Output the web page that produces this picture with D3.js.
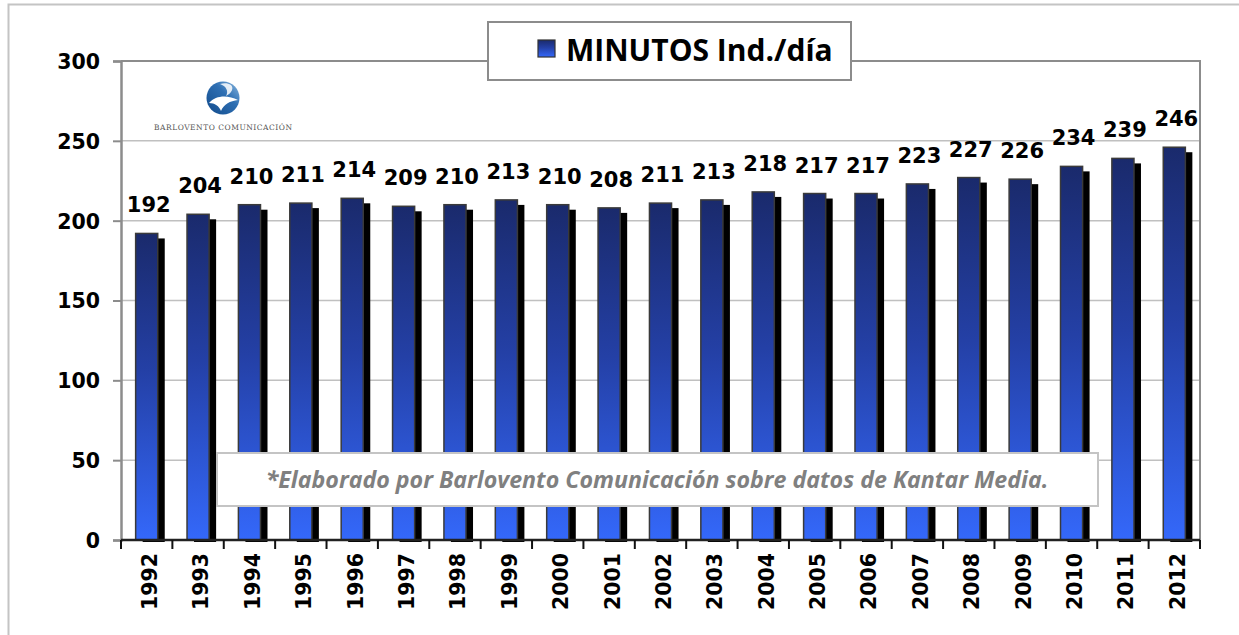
<!DOCTYPE html>
<html>
<head>
<meta charset="utf-8">
<script src="https://cdn.jsdelivr.net/npm/d3@7"></script>
<style>
  html, body { margin: 0; padding: 0; background: #fff; }
  svg { display: block; }
</style>
</head>
<body>
<svg id="chart" width="1239" height="635"></svg>
<script>
// datos
const years = ["1992", "1993", "1994", "1995", "1996", "1997", "1998", "1999", "2000", "2001", "2002",
               "2003", "2004", "2005", "2006", "2007", "2008", "2009", "2010", "2011", "2012"];
const minutos = [192, 204, 210, 211, 214, 209, 210, 213, 210, 208, 211,
                 213, 218, 217, 217, 223, 227, 226, 234, 239, 246];
const yTicks = [0, 50, 100, 150, 200, 250, 300];
const legendLabel = "MINUTOS Ind./día";
const footnote = "*Elaborado por Barlovento Comunicación sobre datos de Kantar Media.";
const logoText = "BARLOVENTO COMUNICACIÓN";

(() => {
    const numFont = "'DejaVu Sans', Verdana, sans-serif";
    const txtFont = "'Open Sans', Lato, sans-serif";

    let svg = d3.select('#chart');

    let pLeft = 121, pRight = 1200, pTop = 61, pBottom = 540;

    let x = d3.scaleBand().domain(years).range([pLeft, pRight]).paddingInner(0.57).paddingOuter(0.285);
    let y = d3.scaleLinear().domain([0, 300]).range([pBottom, pTop]);

    let defs = svg.append('defs');
    let grad = defs.append('linearGradient').attr('id', 'barGrad')
        .attr('x1', 0).attr('y1', 0).attr('x2', 0).attr('y2', 1);
    grad.append('stop').attr('offset', '0%').attr('stop-color', '#1a2a6c');
    grad.append('stop').attr('offset', '45%').attr('stop-color', '#2440a6');
    grad.append('stop').attr('offset', '100%').attr('stop-color', '#3468fa');

    let logoGrad = defs.append('linearGradient').attr('id', 'logoGrad')
        .attr('x1', 0).attr('y1', 1).attr('x2', 1).attr('y2', 0);
    logoGrad.append('stop').attr('offset', '0%').attr('stop-color', '#114a8a');
    logoGrad.append('stop').attr('offset', '60%').attr('stop-color', '#2e6fb3');
    logoGrad.append('stop').attr('offset', '100%').attr('stop-color', '#8ab8e0');

    // marco exterior
    svg.append('rect')
        .attr('x', 8.5).attr('y', 4.5).attr('width', 1260).attr('height', 660)
        .attr('fill', 'none').attr('stroke', '#c4c4c4').attr('stroke-width', 2);

    // lineas de rejilla
    svg.append('g')
        .selectAll('line')
        .data(yTicks.filter(d => d > 0 && d < 300))
        .join('line')
        .attr('x1', pLeft).attr('x2', pRight)
        .attr('y1', d => y(d)).attr('y2', d => y(d))
        .attr('stroke', '#c0c0c0').attr('stroke-width', 1.5);

    // borde del area de trazado
    svg.append('path')
        .attr('d', `M${pLeft},${y(300)}H${pRight}V${pBottom}`)
        .attr('fill', 'none').attr('stroke', '#8c8c8c').attr('stroke-width', 2);

    // sombras
    svg.append('g')
        .selectAll('rect')
        .data(minutos)
        .join('rect')
        .attr('x', (d, i) => x(years[i]) + 7)
        .attr('y', d => y(d) + 5)
        .attr('width', x.bandwidth())
        .attr('height', d => pBottom + 2 - y(d) - 5)
        .attr('fill', '#000');

    // barras
    svg.append('g')
        .selectAll('rect')
        .data(minutos)
        .join('rect')
        .attr('x', (d, i) => x(years[i]))
        .attr('y', d => y(d))
        .attr('width', x.bandwidth())
        .attr('height', d => pBottom - y(d))
        .attr('fill', 'url(#barGrad)')
        .attr('stroke', '#3a3a3a').attr('stroke-width', 1.5);

    // eje Y
    let yAxis = svg.append('g')
        .attr('transform', `translate(${pLeft},0)`)
        .call(d3.axisLeft(y).tickValues(yTicks).tickSize(8).tickPadding(13));
    yAxis.select('.domain').attr('stroke', '#8c8c8c').attr('stroke-width', 2.5);
    yAxis.selectAll('.tick line').attr('stroke', '#8c8c8c').attr('stroke-width', 2);
    yAxis.selectAll('.tick text')
        .attr('font-family', numFont).attr('font-weight', 'bold')
        .attr('font-size', 20.5).attr('fill', '#000').attr('dy', '0.36em');

    // eje X
    let xAxis = svg.append('g').attr('transform', `translate(0,${pBottom})`);
    xAxis.append('line')
        .attr('x1', pLeft).attr('x2', pRight)
        .attr('stroke', '#222').attr('stroke-width', 2.5);
    let step = x.step();
    xAxis.selectAll('.tk')
        .data(d3.range(years.length + 1))
        .join('line')
        .attr('class', 'tk')
        .attr('x1', i => pLeft + i * step).attr('x2', i => pLeft + i * step)
        .attr('y1', 0).attr('y2', 9)
        .attr('stroke', '#111').attr('stroke-width', 2);
    xAxis.selectAll('.yl')
        .data(years)
        .join('text')
        .attr('class', 'yl')
        .attr('transform', d => `translate(${x(d) + x.bandwidth() / 2 + 3},13) rotate(-90)`)
        .attr('text-anchor', 'end')
        .attr('dy', '0.36em')
        .attr('font-family', numFont).attr('font-weight', 'bold')
        .attr('font-size', 20.5).attr('fill', '#000')
        .text(d => d);

    // etiquetas de valor
    svg.append('g')
        .selectAll('text')
        .data(minutos)
        .join('text')
        .attr('x', (d, i) => x(years[i]) + x.bandwidth() / 2 + 2)
        .attr('y', d => y(d) - 21)
        .attr('text-anchor', 'middle')
        .attr('font-family', numFont).attr('font-weight', 'bold')
        .attr('font-size', 21).attr('fill', '#000')
        .text(d => d);

    // leyenda
    let legend = svg.append('g');
    legend.append('rect')
        .attr('x', 488).attr('y', 22).attr('width', 363).attr('height', 58)
        .attr('fill', '#fff').attr('stroke', '#8c8c8c').attr('stroke-width', 2);
    legend.append('rect')
        .attr('x', 538).attr('y', 40).attr('width', 17).attr('height', 17)
        .attr('fill', 'url(#barGrad)').attr('stroke', '#333').attr('stroke-width', 1.2);
    legend.append('text')
        .attr('x', 566).attr('y', 61)
        .attr('font-family', txtFont).attr('font-weight', 'bold')
        .attr('font-size', 30).attr('fill', '#000')
        .text(legendLabel);

    // logo
    let logo = svg.append('g');
    logo.append('circle').attr('cx', 223).attr('cy', 98).attr('r', 16.5).attr('fill', 'url(#logoGrad)');
    logo.append('path')
        .attr('d', 'M209,103 C216,95 228,95 238,100 C230,101 224,104 221,111 C219,106 215,103 209,103 Z')
        .attr('fill', '#fff');
    logo.append('path')
        .attr('d', 'M220,84 C226,86 229,91 226,96 C232,93 234,88 231,85 C228,83 224,83 220,84 Z')
        .attr('fill', '#fff').attr('opacity', 0.85);
    logo.append('text')
        .attr('x', 223).attr('y', 130)
        .attr('text-anchor', 'middle')
        .attr('font-family', "'DejaVu Serif', 'Liberation Serif', serif")
        .attr('font-size', 7.5).attr('fill', '#555')
        .attr('textLength', 138).attr('lengthAdjust', 'spacing')
        .text(logoText);

    // nota al pie
    let note = svg.append('g');
    note.append('rect')
        .attr('x', 217).attr('y', 453).attr('width', 881).attr('height', 53)
        .attr('fill', '#fff').attr('stroke', '#c4c4c4').attr('stroke-width', 2);
    note.append('text')
        .attr('x', 657).attr('y', 488)
        .attr('text-anchor', 'middle')
        .attr('font-family', txtFont).attr('font-weight', 'bold').attr('font-style', 'italic')
        .attr('font-size', 23.2).attr('fill', '#808080')
        .text(footnote);
})();
</script>
</body>
</html>
